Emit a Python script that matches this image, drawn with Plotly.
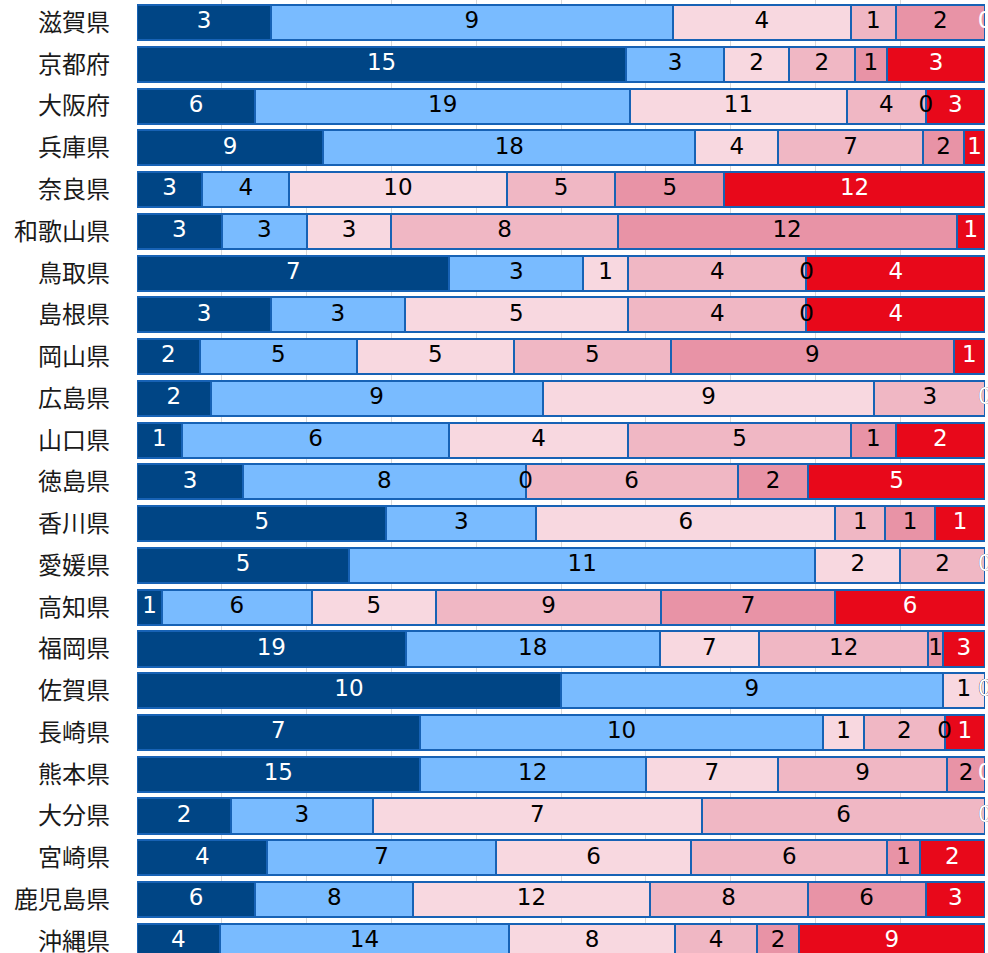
import plotly.graph_objects as go

prefectures = ["滋賀県", "京都府", "大阪府", "兵庫県", "奈良県", "和歌山県", "鳥取県", "島根県",
               "岡山県", "広島県", "山口県", "徳島県", "香川県", "愛媛県", "高知県", "福岡県",
               "佐賀県", "長崎県", "熊本県", "大分県", "宮崎県", "鹿児島県", "沖縄県"]

s1 = [3, 15, 6, 9, 3, 3, 7, 3, 2, 2, 1, 3, 5, 5, 1, 19, 10, 7, 15, 2, 4, 6, 4]
s2 = [9, 3, 19, 18, 4, 3, 3, 3, 5, 9, 6, 8, 3, 11, 6, 18, 9, 10, 12, 3, 7, 8, 14]
s3 = [4, 2, 11, 4, 10, 3, 1, 5, 5, 9, 4, 0, 6, 2, 5, 7, 1, 1, 7, 7, 6, 12, 8]
s4 = [1, 2, 4, 7, 5, 8, 4, 4, 5, 3, 5, 6, 1, 2, 9, 12, 0, 2, 9, 6, 6, 8, 4]
s5 = [2, 1, 0, 2, 5, 12, 0, 0, 9, 0, 1, 2, 1, 0, 7, 1, 0, 0, 2, 0, 1, 6, 2]
s6 = [0, 3, 3, 1, 12, 1, 4, 4, 1, 0, 2, 5, 1, 0, 6, 3, 0, 1, 0, 0, 2, 3, 9]

series = [s1, s2, s3, s4, s5, s6]
fill_colors = ["#004585", "#79bbff", "#f8d8e0", "#f0b7c4", "#e893a6", "#e8081a"]
text_colors = ["white", "black", "black", "black", "black", "white"]

totals = [sum(v) for v in zip(*series)]

fig = go.Figure()
starts = [0.0] * len(prefectures)
label_data = []
for vals, fc, tc in zip(series, fill_colors, text_colors):
    pct = [v / t * 100 for v, t in zip(vals, totals)]
    fig.add_trace(go.Bar(
        y=prefectures, x=pct, orientation="h",
        marker=dict(color=fc, line=dict(color="#1762b5", width=2)),
        hoverinfo="skip", showlegend=False,
    ))
    mids = [s + p / 2 for s, p in zip(starts, pct)]
    label_data.append((mids, vals, tc))
    starts = [s + p for s, p in zip(starts, pct)]

for mids, vals, tc in label_data:
    fig.add_trace(go.Scatter(
        x=mids, y=prefectures, mode="text",
        text=[str(v) for v in vals],
        textfont=dict(family="DejaVu Sans", size=23, color=tc),
        textposition="middle center",
        cliponaxis=False, hoverinfo="skip", showlegend=False,
    ))

fig.update_layout(
    width=988, height=953,
    margin=dict(l=137, r=3, t=0, b=0),
    barmode="stack", bargap=0.16,
    plot_bgcolor="white", paper_bgcolor="white",
    xaxis=dict(range=[0, 100], dtick=10, showgrid=True, gridcolor="#d9d9d9",
               gridwidth=1, zeroline=False, showticklabels=False, fixedrange=True),
    yaxis=dict(type="category", categoryorder="array", categoryarray=prefectures,
               range=[22.28, -0.54], showgrid=False, zeroline=False,
               tickfont=dict(family="Noto Sans CJK JP", size=24, color="#1a1a1a"),
               ticks="", ticklabelstandoff=26, automargin=False, fixedrange=True),
)

fig.write_html("out.html", config={"displayModeBar": False},
               post_script="document.body.style.margin='0';document.body.style.overflow='hidden';")
